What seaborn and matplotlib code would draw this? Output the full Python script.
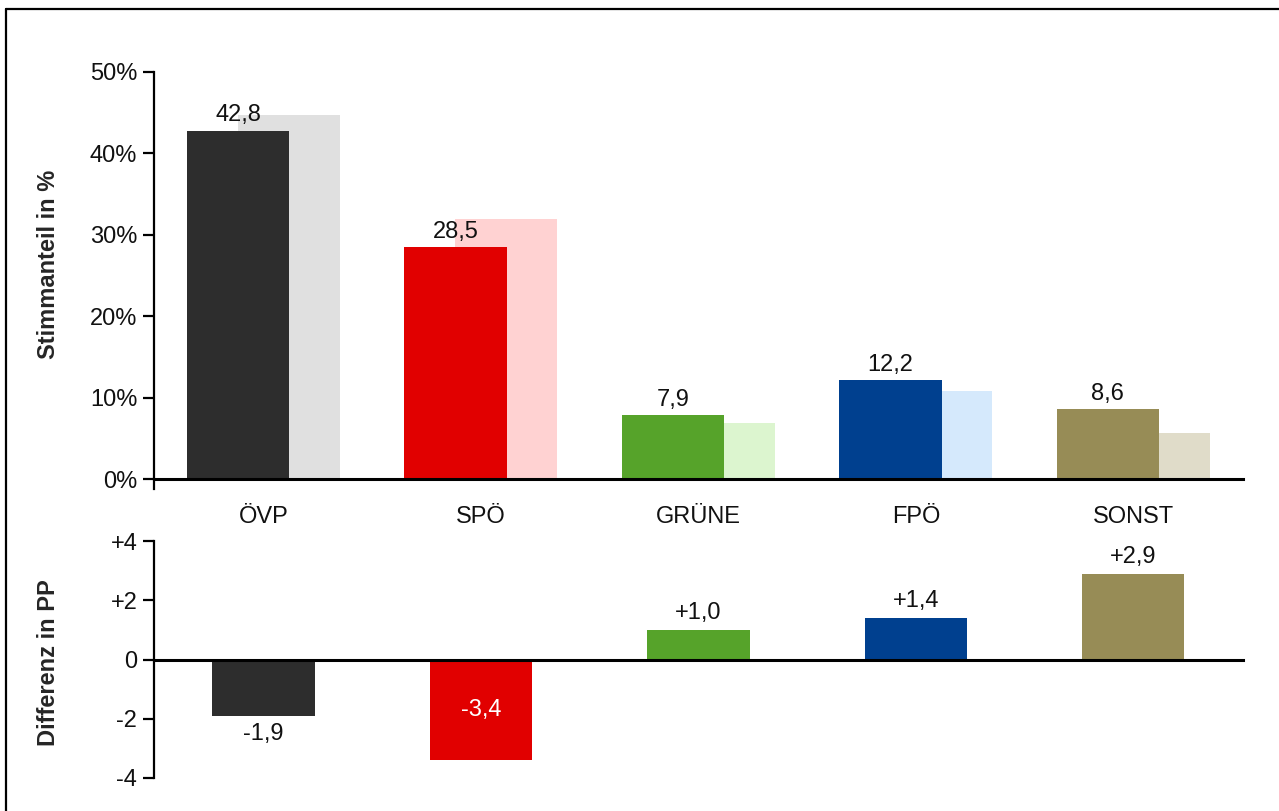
import matplotlib
matplotlib.use("Agg")
import matplotlib.pyplot as plt
from matplotlib.lines import Line2D
import seaborn as sns
import pandas as pd

# Parteien und Ergebnisse
parteien = ["ÖVP", "SPÖ", "GRÜNE", "FPÖ", "SONST"]
wahl_aktuell = [42.8, 28.5, 7.9, 12.2, 8.6]
wahl_vorher = [44.7, 31.9, 6.9, 10.8, 5.7]
differenz = [-1.9, -3.4, 1.0, 1.4, 2.9]
labels_aktuell = ["42,8", "28,5", "7,9", "12,2", "8,6"]
labels_diff = ["-1,9", "-3,4", "+1,0", "+1,4", "+2,9"]
farben = ["#2d2d2d", "#e10000", "#56a32a", "#00408f", "#978c56"]
farben_hell = ["#e0e0e0", "#ffd2d2", "#dcf5cf", "#d5e9fc", "#e0dcc9"]

sns.set_theme(style="white")
plt.rcParams["font.family"] = ["Liberation Sans", "DejaVu Sans"]

FS = 17
W, H = 1279, 811
fig = plt.figure(figsize=(W / 100, H / 100), dpi=100)
ax1 = fig.add_axes([154 / W, 1 - 489 / H, 1089 / W, (489 - 72) / H])
ax2 = fig.add_axes([154 / W, 1 - 778 / H, 1089 / W, (778 - 541) / H])

df = pd.DataFrame({"partei": parteien, "aktuell": wahl_aktuell,
                   "vorher": wahl_vorher, "diff": differenz})

breite = 0.47
versatz = 0.117

# Vorwahl (hell, dahinter)
sns.barplot(data=df, x="partei", y="vorher", hue="partei", palette=farben_hell,
            width=breite, legend=False, ax=ax1, saturation=1, linewidth=0)
n_alt = len(ax1.patches)
for p in ax1.patches:
    p.set_x(p.get_x() + versatz)
# aktuelle Wahl
sns.barplot(data=df, x="partei", y="aktuell", hue="partei", palette=farben,
            width=breite, legend=False, ax=ax1, saturation=1, linewidth=0)
for p in ax1.patches[n_alt:]:
    p.set_x(p.get_x() - versatz)
    p.set_zorder(3)

for p, txt in zip(ax1.patches[n_alt:], labels_aktuell):
    ax1.annotate(txt, (p.get_x() + p.get_width() / 2, p.get_height()),
                 xytext=(0, 3), textcoords="offset points",
                 ha="center", va="bottom", fontsize=FS, color="#111111")

ax1.set_xlim(-0.503, 4.504)
ax1.set_ylim(-1.2, 50)
ax1.set_yticks([0, 10, 20, 30, 40, 50])
ax1.set_yticklabels([f"{v}%" for v in range(0, 60, 10)])
ax1.set_xlabel("")
ax1.set_ylabel("Stimmanteil in %", fontsize=FS, fontweight="bold", va="center")
ax1.yaxis.set_label_coords(-0.0973, 0.538)

# Differenz
sns.barplot(data=df, x="partei", y="diff", hue="partei", palette=farben,
            width=breite, legend=False, ax=ax2, saturation=1, linewidth=0)
for p, d, txt in zip(ax2.patches, differenz, labels_diff):
    xc = p.get_x() + p.get_width() / 2
    if d <= -3:
        ax2.text(xc, d / 2, txt, ha="center", va="center", fontsize=FS, color="white")
    elif d < 0:
        ax2.annotate(txt, (xc, d), xytext=(0, -5), textcoords="offset points",
                     ha="center", va="top", fontsize=FS, color="#111111")
    else:
        ax2.annotate(txt, (xc, d), xytext=(0, 4), textcoords="offset points",
                     ha="center", va="bottom", fontsize=FS, color="#111111")

ax2.set_xlim(-0.503, 4.504)
ax2.set_ylim(-4, 4)
ax2.set_yticks([4, 2, 0, -2, -4])
ax2.set_yticklabels(["+4", "+2", "0", "-2", "-4"])
ax2.set_xlabel("")
ax2.set_xticks([])
ax2.set_ylabel("Differenz in PP", fontsize=FS, fontweight="bold", va="center")
ax2.yaxis.set_label_coords(-0.0973, 0.485)

for ax in (ax1, ax2):
    ax.set_facecolor("none")
    for s in ("top", "right"):
        ax.spines[s].set_visible(False)
    ax.spines["left"].set_linewidth(1.6)
    ax.spines["left"].set_color("black")
    ax.spines["bottom"].set_position(("data", 0))
    ax.spines["bottom"].set_linewidth(2.2)
    ax.spines["bottom"].set_color("black")
    ax.spines["bottom"].set_zorder(4)
    ax.tick_params(axis="y", left=True, direction="out", length=8, width=1.6,
                   pad=4, labelsize=FS, labelcolor="#111111", color="black")

ax1.tick_params(axis="x", bottom=False, length=0, pad=19, labelsize=FS,
                labelcolor="#111111")

# Rahmen
fig.add_artist(Line2D([6 / W, 6 / W], [0, 1 - 9 / H], color="black", lw=1.6,
                      transform=fig.transFigure))
fig.add_artist(Line2D([6 / W, 1], [1 - 9 / H, 1 - 9 / H], color="black", lw=1.6,
                      transform=fig.transFigure))

fig.savefig("out.png", dpi=100, facecolor="white")
